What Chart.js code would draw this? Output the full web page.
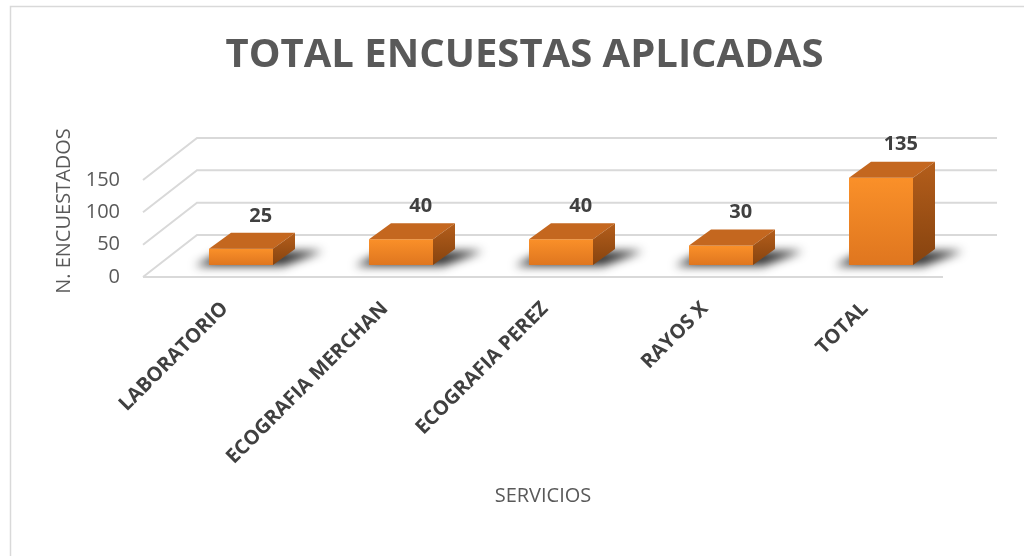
<!DOCTYPE html>
<html>
<head>
<meta charset="utf-8">
<script src="https://cdn.jsdelivr.net/npm/chart.js@4.4.1/dist/chart.umd.min.js"></script>
<style>
  html, body { margin: 0; padding: 0; background: #fff; }
  canvas { display: block; }
</style>
</head>
<body>
<canvas id="grafico" width="1024" height="556"></canvas>
<script>
// datos del gráfico
const categorias = ['LABORATORIO', 'ECOGRAFIA MERCHAN', 'ECOGRAFIA PEREZ', 'RAYOS X', 'TOTAL'];
const encuestados = [25, 40, 40, 30, 135];
const ticksY = [0, 50, 100, 150];

const FUENTE = "'Open Sans', 'DejaVu Sans', sans-serif";

// desplazamientos del efecto 3D (px)
const DESPL_BARRA = { x: 18, y: -12 };  // cara frontal dentro del piso
const PROF_BARRA = { x: 22, y: -16 };   // profundidad de cada barra
const PARED = { x: 54, y: -42 };        // pared del fondo

const efecto3d = {
  id: 'efecto3d',
  beforeDraw(chart) {
    const { ctx } = chart;
    ctx.save();
    ctx.strokeStyle = '#d9d9d9';
    ctx.lineWidth = 1.5;
    ctx.strokeRect(10.5, 6.5, 1200, 700);
    ctx.restore();
  },
  beforeDatasetsDraw(chart) {
    const { ctx, chartArea: a, scales: { y } } = chart;
    ctx.save();
    ctx.strokeStyle = '#d9d9d9';
    ctx.lineWidth = 2;
    ticksY.forEach((v) => {
      const py = y.getPixelForValue(v);
      ctx.beginPath();
      ctx.moveTo(a.left, py);
      ctx.lineTo(a.left + PARED.x, py + PARED.y);
      ctx.lineTo(a.right + PARED.x, py + PARED.y);
      ctx.stroke();
    });
    const y0 = y.getPixelForValue(0);
    ctx.beginPath();
    ctx.moveTo(a.left, y0);
    ctx.lineTo(a.right, y0);
    ctx.stroke();

    // sombras en el piso
    ctx.filter = 'blur(5px)';
    ctx.fillStyle = 'rgba(15,15,15,0.85)';
    chart.getDatasetMeta(0).data.forEach((bar) => {
      const l = bar.x - bar.width / 2 + DESPL_BARRA.x;
      const r = l + bar.width;
      const b = bar.base + DESPL_BARRA.y;
      ctx.beginPath();
      ctx.moveTo(l - 14, b + 1);
      ctx.lineTo(r + 10, b + 1);
      ctx.lineTo(r + PROF_BARRA.x + 28, b + PROF_BARRA.y + 2);
      ctx.lineTo(l + PROF_BARRA.x - 8, b + PROF_BARRA.y + 2);
      ctx.closePath();
      ctx.fill();
    });
    ctx.filter = 'none';
    ctx.restore();

    ctx.save();
    ctx.translate(DESPL_BARRA.x, DESPL_BARRA.y);
  },
  afterDatasetsDraw(chart) {
    const { ctx } = chart;
    ctx.restore();
    ctx.save();
    const dx = PROF_BARRA.x, dy = PROF_BARRA.y;
    chart.getDatasetMeta(0).data.forEach((bar, i) => {
      const l = bar.x - bar.width / 2 + DESPL_BARRA.x;
      const r = l + bar.width;
      const t = bar.y + DESPL_BARRA.y;
      const b = bar.base + DESPL_BARRA.y;

      ctx.fillStyle = '#c4671f';
      ctx.beginPath();
      ctx.moveTo(l, t);
      ctx.lineTo(l + dx, t + dy);
      ctx.lineTo(r + dx, t + dy);
      ctx.lineTo(r, t);
      ctx.closePath();
      ctx.fill();

      const g = ctx.createLinearGradient(0, t + dy, 0, b);
      g.addColorStop(0, '#b45e1b');
      g.addColorStop(1, '#86430f');
      ctx.fillStyle = g;
      ctx.beginPath();
      ctx.moveTo(r, t);
      ctx.lineTo(r + dx, t + dy);
      ctx.lineTo(r + dx, b + dy);
      ctx.lineTo(r, b);
      ctx.closePath();
      ctx.fill();

      ctx.fillStyle = '#404040';
      ctx.font = `bold 20px ${FUENTE}`;
      ctx.textAlign = 'center';
      ctx.textBaseline = 'middle';
      ctx.fillText(String(encuestados[i]), bar.x + DESPL_BARRA.x + dx * 0.9, t + dy - 17);
    });
    ctx.restore();
  },
  afterDraw(chart) {
    const { ctx } = chart;
    ctx.save();
    ctx.translate(64, 211);
    ctx.rotate(-Math.PI / 2);
    ctx.fillStyle = '#595959';
    ctx.font = `20px ${FUENTE}`;
    ctx.textAlign = 'center';
    ctx.textBaseline = 'middle';
    ctx.fillText('N. ENCUESTADOS', 0, 0);
    ctx.restore();
  },
};

new Chart(document.getElementById('grafico'), {
  type: 'bar',
  data: {
    labels: categorias,
    datasets: [
      {
        label: 'Encuestados',
        data: encuestados,
        clip: false,
        categoryPercentage: 1,
        barPercentage: 0.4,
        borderWidth: 0,
        backgroundColor(c) {
          const { chart, dataIndex } = c;
          const y = chart.scales.y;
          if (!y || !chart.chartArea) return '#f28a26';
          const top = y.getPixelForValue(encuestados[dataIndex]);
          const bot = y.getPixelForValue(0);
          const g = chart.ctx.createLinearGradient(0, top, 0, bot);
          g.addColorStop(0, '#fa9029');
          g.addColorStop(1, '#df761f');
          return g;
        },
      },
    ],
  },
  options: {
    responsive: false,
    animation: false,
    layout: { padding: { left: 25, top: 6, right: 0, bottom: 0 } },
    plugins: {
      legend: { display: false },
      tooltip: { enabled: false },
      title: {
        display: true,
        text: 'TOTAL ENCUESTAS APLICADAS',
        color: '#595959',
        font: { family: FUENTE, size: 40, weight: 'bold' },
        padding: { top: 26, bottom: 100 },
      },
    },
    scales: {
      x: {
        grid: { display: false, drawTicks: false },
        border: { display: false },
        ticks: {
          autoSkip: false,
          minRotation: 45,
          maxRotation: 45,
          padding: 20,
          labelOffset: 2,
          color: '#404040',
          font: { family: FUENTE, size: 20, weight: 'bold' },
        },
        title: {
          display: true,
          text: 'SERVICIOS',
          color: '#595959',
          font: { family: FUENTE, size: 20 },
          padding: { top: 0, bottom: 48 },
        },
        afterFit(s) { s.height = 279; },
      },
      y: {
        min: 0,
        max: 150,
        grid: { display: false, drawTicks: false },
        border: { display: false },
        afterBuildTicks(s) { s.ticks = ticksY.map((v) => ({ value: v })); },
        ticks: {
          padding: 23,
          color: '#595959',
          font: { family: FUENTE, size: 20 },
        },
        afterFit(s) { s.width = 118; },
      },
      y2: {
        position: 'right',
        grid: { display: false, drawTicks: false },
        border: { display: false },
        ticks: { display: false },
        afterFit(s) { s.width = 81; },
      },
    },
  },
  plugins: [efecto3d],
});
</script>
</body>
</html>
